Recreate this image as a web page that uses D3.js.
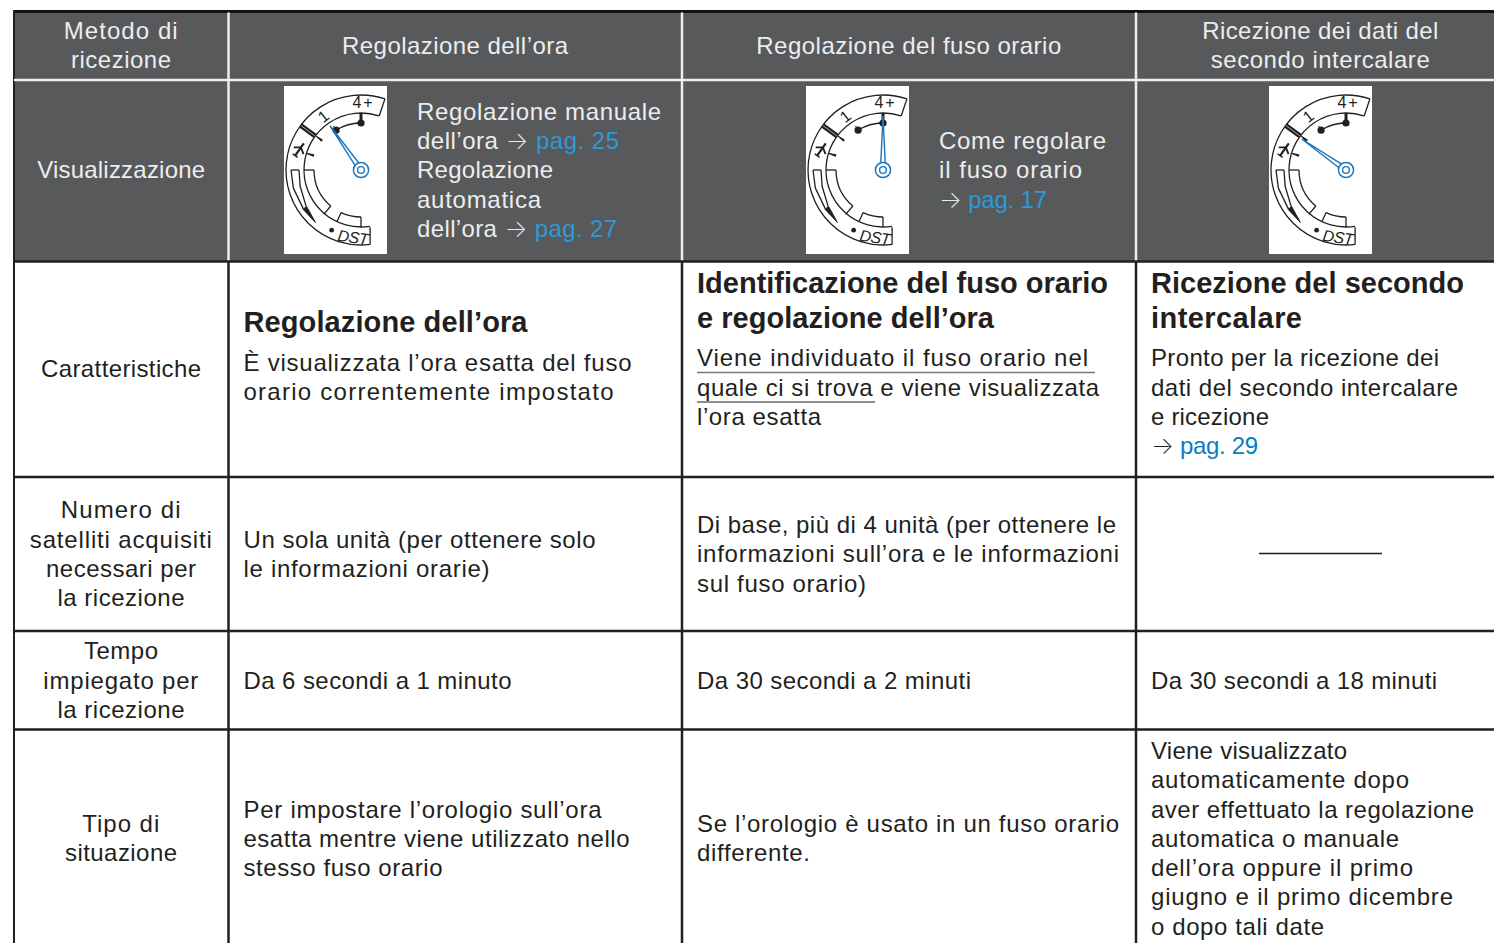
<!DOCTYPE html>
<html>
<head>
<meta charset="utf-8">
<script src="https://cdn.jsdelivr.net/npm/d3@7"></script>
<style>
  html, body { margin: 0; padding: 0; background: #fff; overflow: hidden; }
  text { font-family: "Liberation Sans", sans-serif; }
</style>
</head>
<body>
<div id="table"></div>
<script>
// Table content
var columnKeys = ["metodo", "ora", "fuso", "secondo"];
var rowKeys = ["head", "vis", "car", "num", "tempo", "tipo"];

var headerLabels = [
  ["Metodo di", "ricezione"],
  ["Regolazione dell’ora"],
  ["Regolazione del fuso orario"],
  ["Ricezione dei dati del", "secondo intercalare"]
];
var rowLabels = [
  ["Visualizzazione"],
  ["Caratteristiche"],
  ["Numero di", "satelliti acquisiti", "necessari per", "la ricezione"],
  ["Tempo", "impiegato per", "la ricezione"],
  ["Tipo di", "situazione"]
];
var displayNotes = [
  ["Regolazione manuale", "dell’ora → pag. 25", "Regolazione", "automatica", "dell’ora → pag. 27"],
  ["Come regolare", "il fuso orario", "→ pag. 17"]
];
var featureTitles = [
  ["Regolazione dell’ora"],
  ["Identificazione del fuso orario", "e regolazione dell’ora"],
  ["Ricezione del secondo", "intercalare"]
];
var featureBodies = [
  ["È visualizzata l’ora esatta del fuso", "orario correntemente impostato"],
  ["Viene individuato il fuso orario nel", "quale ci si trova e viene visualizzata", "l’ora esatta"],
  ["Pronto per la ricezione dei", "dati del secondo intercalare", "e ricezione", "→ pag. 29"]
];
var satelliteTexts = [
  ["Un sola unità (per ottenere solo", "le informazioni orarie)"],
  ["Di base, più di 4 unità (per ottenere le", "informazioni sull’ora e le informazioni", "sul fuso orario)"],
  []
];
var timeTexts = [
  ["Da 6 secondi a 1 minuto"],
  ["Da 30 secondi a 2 minuti"],
  ["Da 30 secondi a 18 minuti"]
];
var situationTexts = [
  ["Per impostare l’orologio sull’ora", "esatta mentre viene utilizzato nello", "stesso fuso orario"],
  ["Se l’orologio è usato in un fuso orario", "differente."],
  ["Viene visualizzato", "automaticamente dopo", "aver effettuato la regolazione", "automatica o manuale", "dell’ora oppure il primo", "giugno e il primo dicembre", "o dopo tali date"]
];
// second hand reading on each dial, degrees from 12 o'clock
var handAngles = [-35, 0, -55];

// Layout
var svgWidth = 1494;
var svgHeight = 943;
var lineStep = 29.3;
var dark = "#58595b";
var ink = "#231f20";

// printed width of each line, the letter spacing is fitted to these
var lineWidths = new Map([
  ["Metodo di", 114], ["ricezione", 100], ["Regolazione dell’ora", 226], ["Regolazione del fuso orario", 305],
  ["Ricezione dei dati del", 236], ["secondo intercalare", 219], ["Visualizzazione", 168], ["Caratteristiche", 160],
  ["Numero di", 120], ["satelliti acquisiti", 182], ["necessari per", 150], ["la ricezione", 127],
  ["Tempo", 74], ["impiegato per", 155], ["Tipo di", 77], ["situazione", 112],
  ["Regolazione manuale", 244], ["dell’ora → pag. 25", 202], ["Regolazione", 136], ["automatica", 124],
  ["dell’ora → pag. 27", 200], ["Come regolare", 167], ["il fuso orario", 143], ["→ pag. 17", 108],
  ["È visualizzata l’ora esatta del fuso", 388], ["orario correntemente impostato", 370],
  ["Viene individuato il fuso orario nel", 391], ["quale ci si trova e viene visualizzata", 402], ["l’ora esatta", 124],
  ["Pronto per la ricezione dei", 288], ["dati del secondo intercalare", 307], ["e ricezione", 118], ["→ pag. 29", 107],
  ["Un sola unità (per ottenere solo", 352], ["le informazioni orarie)", 246],
  ["Di base, più di 4 unità (per ottenere le", 419], ["informazioni sull’ora e le informazioni", 422], ["sul fuso orario)", 169],
  ["Da 6 secondi a 1 minuto", 268], ["Da 30 secondi a 2 minuti", 274], ["Da 30 secondi a 18 minuti", 286],
  ["Per impostare l’orologio sull’ora", 358], ["esatta mentre viene utilizzato nello", 386], ["stesso fuso orario", 199],
  ["Se l’orologio è usato in un fuso orario", 422], ["differente.", 113],
  ["Viene visualizzato", 196], ["automaticamente dopo", 258], ["aver effettuato la regolazione", 323],
  ["automatica o manuale", 248], ["dell’ora oppure il primo", 262], ["giugno e il primo dicembre", 302], ["o dopo tali date", 173]
]);
var titleWidths = new Map([
  ["Regolazione dell’ora", 284], ["Identificazione del fuso orario", 411], ["e regolazione dell’ora", 297],
  ["Ricezione del secondo", 313], ["intercalare", 151]
]);

var x = d3.scaleOrdinal().domain(columnKeys.concat("end")).range([14, 228.5, 682, 1136, 1505]);
var y = d3.scaleOrdinal().domain(rowKeys.concat("end")).range([11.5, 80, 261.5, 477, 631, 729.5, 948]);

function colLeft(i) { return x(columnKeys[i]); }
function colRight(i) { return x(i + 1 < columnKeys.length ? columnKeys[i + 1] : "end"); }
function rowTop(k) { return y(k); }
function rowBottom(k) { var i = rowKeys.indexOf(k); return y(i + 1 < rowKeys.length ? rowKeys[i + 1] : "end"); }

var svg = d3.select("#table")
  .append("svg")
  .attr("width", svgWidth)
  .attr("height", svgHeight)
  .style("display", "block");

// Dark header rows
svg.append("rect")
  .attr("x", x("metodo"))
  .attr("y", y("head"))
  .attr("width", svgWidth - x("metodo"))
  .attr("height", y("car") - y("head"))
  .attr("fill", dark);

// Grid lines
var gridGroup = svg.append("g");
gridGroup.append("line").attr("x1", 13).attr("x2", svgWidth).attr("y1", y("head")).attr("y2", y("head"))
  .attr("stroke", "#111").attr("stroke-width", 3);
gridGroup.append("line").attr("x1", 14).attr("x2", 14).attr("y1", 10).attr("y2", svgHeight)
  .attr("stroke", ink).attr("stroke-width", 2);
gridGroup.append("line").attr("x1", x("metodo")).attr("x2", svgWidth).attr("y1", y("vis")).attr("y2", y("vis"))
  .attr("stroke", "#eee").attr("stroke-width", 2.5);
gridGroup.selectAll(".headV").data(columnKeys.slice(1)).enter().append("line")
  .attr("x1", d => x(d)).attr("x2", d => x(d))
  .attr("y1", y("head") + 1).attr("y2", y("car"))
  .attr("stroke", "#eee").attr("stroke-width", 2.5);
gridGroup.selectAll(".bodyV").data(columnKeys.slice(1)).enter().append("line")
  .attr("x1", d => x(d)).attr("x2", d => x(d))
  .attr("y1", y("car")).attr("y2", svgHeight)
  .attr("stroke", ink).attr("stroke-width", 2.5);
gridGroup.selectAll(".bodyH").data(rowKeys.slice(2)).enter().append("line")
  .attr("x1", 13).attr("x2", svgWidth)
  .attr("y1", d => y(d)).attr("y2", d => y(d))
  .attr("stroke", ink).attr("stroke-width", 2.5);

// Text helpers
function addLine(px, py, line, opt) {
  var t = svg.append("text")
    .attr("x", px)
    .attr("y", py)
    .attr("text-anchor", opt.anchor || "start")
    .attr("fill", opt.color)
    .style("font-size", (opt.size || 24) + "px")
    .style("font-weight", opt.weight || "normal");
  line.split(/(→|pag\. \d+)/).forEach(function(part) {
    if (!part) return;
    var span = t.append("tspan").attr("fill", /^pag\./.test(part) ? opt.link : opt.color).text(part);
    if (part === "→") span.style("font-family", "Inter").style("font-weight", 200);
  });
  var target = (opt.widths || lineWidths).get(line);
  if (target) {
    var natural = t.node().getComputedTextLength();
    t.style("letter-spacing", ((target - natural) / (line.length - 1)) + "px");
  }
}

function centredBlock(lines, cx, cy, opt) {
  lines.forEach(function(line, i) {
    addLine(cx, cy + (i - (lines.length - 1) / 2) * lineStep + 8.3, line, opt);
  });
}

var headText = { color: "#eceded", link: "#2b9ad8", anchor: "middle" };
var headLeft = { color: "#eceded", link: "#2b9ad8" };
var bodyCentre = { color: ink, anchor: "middle" };
var bodyLeft = { color: ink, link: "#0b7cc1" };

// Header row
headerLabels.forEach(function(lines, i) {
  centredBlock(lines, (colLeft(i) + colRight(i)) / 2, (rowTop("head") + rowBottom("head")) / 2 - 0.4, headText);
});

// First column
rowLabels.forEach(function(lines, i) {
  var key = rowKeys[i + 1];
  var cy = key === "tipo" ? 838.5 : (rowTop(key) + rowBottom(key)) / 2 - (i < 2 ? 0.8 : 0);
  centredBlock(lines, (colLeft(0) + colRight(0)) / 2, cy, i === 0 ? headText : bodyCentre);
});

// Left aligned cell blocks
var textInset = 15;
[
  { key: "num", data: satelliteTexts },
  { key: "tempo", data: timeTexts },
  { key: "tipo", data: situationTexts }
].forEach(function(row) {
  row.data.forEach(function(lines, i) {
    var cy = row.key === "tipo" ? 838.5 : (rowTop(row.key) + rowBottom(row.key)) / 2;
    centredBlock(lines, colLeft(i + 1) + textInset, cy, bodyLeft);
  });
});

// Features row: bold title, then body lines
var titleBase = [332, 293, 293];
var titleStep = 35;
featureTitles.forEach(function(lines, i) {
  var px = colLeft(i + 1) + textInset;
  lines.forEach(function(line, j) {
    addLine(px, titleBase[i] + j * titleStep, line, { color: ink, size: 29, weight: "bold", widths: titleWidths });
  });
  var start = titleBase[i] + (lines.length - 1) * titleStep + (lines.length > 1 ? 38.2 : 38.7);
  featureBodies[i].forEach(function(line, j) {
    addLine(px, start + j * lineStep, line, bodyLeft);
  });
});

// Underlines and the empty cell dash
var rules = [
  { x1: 697, x2: 1095, y: 372.5, color: "#77787b", w: 1.6 },
  { x1: 697, x2: 875, y: 402, color: ink, w: 1.2 },
  { x1: 1259, x2: 1382, y: 553.5, color: ink, w: 1.4 }
];
svg.selectAll(".rule").data(rules).enter().append("line")
  .attr("x1", d => d.x1).attr("x2", d => d.x2)
  .attr("y1", d => d.y).attr("y2", d => d.y)
  .attr("stroke", d => d.color).attr("stroke-width", d => d.w);

// Dials
var angle = d3.scaleLinear().domain([0, 360]).range([0, 2 * Math.PI]);
var arc = d3.arc();
var radial = d3.lineRadial().angle(d => angle(d[0])).radius(d => d[1]);

function polar(deg, r) {
  var a = angle(deg);
  return [r * Math.sin(a), -r * Math.cos(a)];
}

function drawDial(cx, cy, handDeg) {
  var g = svg.append("g").attr("transform", `translate(${cx}, ${cy})`);
  g.append("rect").attr("x", -77).attr("y", -84).attr("width", 103).attr("height", 168).attr("fill", "#fff");

  function ring(r, from, to, w) {
    g.append("path")
      .attr("d", arc({ innerRadius: r, outerRadius: r, startAngle: angle(from), endAngle: angle(to) }))
      .attr("fill", "none").attr("stroke", ink).attr("stroke-width", w || 1.3);
  }
  function seg(points, w, fill) {
    g.append("path")
      .attr("d", radial(points) + (fill ? "Z" : ""))
      .attr("fill", fill || "none").attr("stroke", ink).attr("stroke-width", w || 1.3)
      .attr("stroke-linejoin", "round");
  }

  // main band
  ring(75, -187, 18.7);
  ring(57, -189, 18.4);
  seg([[18.6, 57], [18.6, 75]]);
  seg([[171, 58], [173, 75]]);
  seg([[-53.5, 57], [-53.5, 75]], 5);
  g.append("path").attr("d", radial([[-53.5, 57.5], [-53.5, 74.5]]))
    .attr("stroke", "#aaa").attr("stroke-width", 1);
  // seconds track
  ring(47, -32, 0);
  seg([[0, 47], [0, 57]], 3);
  seg([[-32, 47], [-32, 52]], 1);
  [[0, 47, 3.6], [-32, 47, 3.6]].forEach(function(d) {
    var p = polar(d[0], d[1]);
    g.append("circle").attr("cx", p[0]).attr("cy", p[1]).attr("r", d[2]).attr("fill", ink);
  });
  // ticks
  seg([[-53, 57], [-52, 49], [-54, 49]], 1, ink);
  seg([[-73, 57], [-72, 49.5], [-74, 49.5]], 1, ink);
  // boxes inside the band
  ring(47, -140, -90);
  seg([[-90, 47], [-90, 57]]);
  seg([[-140, 47], [-140, 58]]);
  ring(47, -155, -180);
  seg([[-155, 47], [-155, 57]]);
  seg([[-180, 47], [-180, 57]]);
  // narrowing weekday track and its pointer
  seg([[-90, 70], [-105, 70], [-124, 69.5]]);
  seg([[-90, 62], [-105, 63], [-124, 66]]);
  seg([[-90, 62], [-90, 70]]);
  seg([[-124, 65.5], [-124, 70], [-139, 69.5]], 1, ink);
  // dot beside DST
  var dot = polar(-154, 67);
  g.append("circle").attr("cx", dot[0]).attr("cy", dot[1]).attr("r", 2.4).attr("fill", ink);

  // labels on the band
  var p4 = polar(0, 67);
  g.append("text").attr("x", p4[0] + 2.5).attr("y", p4[1] + 5).attr("text-anchor", "middle")
    .style("font-size", "16px").style("letter-spacing", "2px").attr("fill", ink).text("4+");
  var p1 = polar(-35, 66);
  g.append("text").attr("transform", `translate(${p1[0]}, ${p1[1]}) rotate(-38)`)
    .attr("y", 6).attr("text-anchor", "middle")
    .style("font-size", "16px").attr("fill", ink).text("1");
  g.append("text").attr("transform", "translate(-8, 67) rotate(8)")
    .attr("y", 6).attr("text-anchor", "middle")
    .style("font-size", "16px").style("font-style", "italic").style("letter-spacing", "-0.5px").attr("fill", ink).text("DST");

  // plane symbol
  var pl = polar(-72, 65);
  var plane = g.append("g").attr("transform", `translate(${pl[0]}, ${pl[1]}) rotate(35)`);
  plane.append("path").attr("d", "M0,-8L0,7").attr("stroke", ink).attr("stroke-width", 2.2);
  plane.append("path").attr("d", "M-6,1L0,-3L6,1").attr("fill", "none").attr("stroke", ink).attr("stroke-width", 1.8);
  plane.append("path").attr("d", "M-3,7L3,7").attr("stroke", ink).attr("stroke-width", 1.4);

  // hand
  var blue = "#1c75bc";
  var n = polar(handDeg + 90, 2.2);
  var b = polar(handDeg, 7);
  var tip = polar(handDeg, 54);
  g.append("path")
    .attr("d", d3.line()([[b[0] + n[0], b[1] + n[1]], tip, [b[0] - n[0], b[1] - n[1]]]))
    .attr("fill", "#fff").attr("stroke", blue).attr("stroke-width", 1.4);
  g.append("circle").attr("r", 7.6).attr("fill", "#fff").attr("stroke", blue).attr("stroke-width", 1.5);
  g.append("circle").attr("r", 3.4).attr("fill", "#fff").attr("stroke", blue).attr("stroke-width", 1.4);
}

var dialCentres = [[361, 170], [883, 170], [1346, 170]];
dialCentres.forEach(function(c, i) { drawDial(c[0], c[1], handAngles[i]); });

// Notes next to the dials
var noteX = [417, 939];
var noteBase = [119.8, 149];
noteX.forEach(function(px, i) {
  displayNotes[i].forEach(function(line, j) {
    addLine(px, noteBase[i] + j * lineStep, line, headLeft);
  });
});
</script>
</body>
</html>
